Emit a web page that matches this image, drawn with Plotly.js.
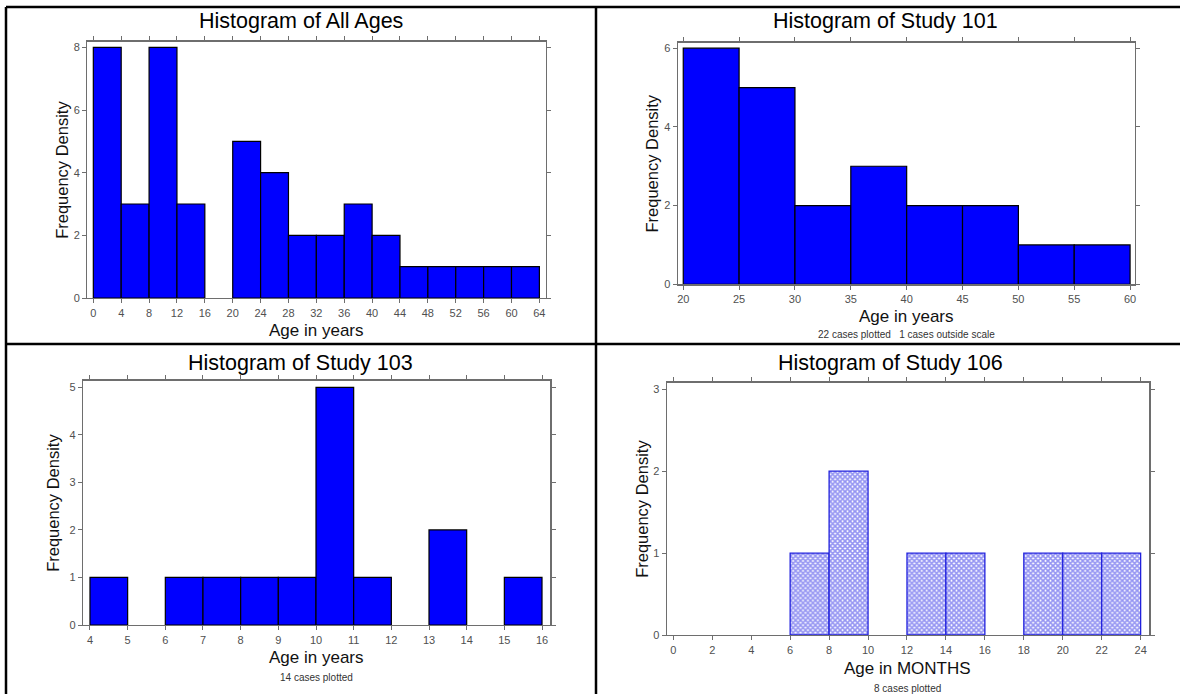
<!DOCTYPE html>
<html>
<head>
<meta charset="utf-8">
<script src="https://cdn.plot.ly/plotly-3.0.1.min.js"></script>
<style>
html,body{margin:0;padding:0;background:#fff;}
#chart{width:1180px;height:694px;}
</style>
</head>
<body>
<div id="chart"></div>
<script>
// ---- Data ----
const allAgesBinStarts = [0,4,8,12,16,20,24,28,32,36,40,44,48,52,56,60];
const allAgesCounts    = [8,3,8,3,0,5,4,2,2,3,2,1,1,1,1,1];
const allAgesBinWidth  = 4;

const study101BinStarts = [20,25,30,35,40,45,50,55];
const study101Counts    = [6,5,2,3,2,2,1,1];
const study101BinWidth  = 5;

const study103BinStarts = [4,5,6,7,8,9,10,11,12,13,14,15];
const study103Counts    = [1,0,1,1,1,1,5,1,0,2,0,1];
const study103BinWidth  = 1;

const study106BinStarts = [0,2,4,6,8,10,12,14,16,18,20,22];
const study106Counts    = [0,0,0,1,2,0,1,1,0,1,1,1];
const study106BinWidth  = 2;

const titles = ["Histogram of All Ages","Histogram of Study 101","Histogram of Study 103","Histogram of Study 106"];
const xTitles = ["Age in years","Age in years","Age in years","Age in MONTHS"];
const yTitle = "Frequency Density";
const notes = ["", "22 cases plotted   1 cases outside scale", "14 cases plotted", "8 cases plotted"];
const xTicks = [
  [0,4,8,12,16,20,24,28,32,36,40,44,48,52,56,60,64],
  [20,25,30,35,40,45,50,55,60],
  [4,5,6,7,8,9,10,11,12,13,14,15,16],
  [0,2,4,6,8,10,12,14,16,18,20,22,24]
];
const yTicks = [[0,2,4,6,8],[0,2,4,6],[0,1,2,3,4,5],[0,1,2,3]];

// ---- Layout helpers (pixel -> paper) ----
const W = 1180, H = 694;
const px = v => v / W;
const py = v => 1 - v / H;

// plot boxes in pixels: [left, right, top, bottom]
const boxes = [
  [87.4, 546, 41.7, 298],
  [678, 1135, 42.7, 284.3],
  [83.2, 550.3, 380.7, 625],
  [666.9, 1149.4, 382.7, 635]
];
const xRanges = [[-0.85,64.95],[19.53,60.44],[3.82,16.22],[-0.33,24.45]];
const yRanges = [[0,8.18],[0,6.14],[0,5.14],[0,3.08]];

function barTrace(starts, counts, width, idx, patterned) {
  const xs = [], ys = [];
  starts.forEach((s,i) => { if (counts[i] > 0) { xs.push(s + width/2); ys.push(counts[i]); } });
  const marker = patterned ? {
    color: '#ffffff',
    line: {color: '#2222dd', width: 1.3},
    pattern: {shape: 'x', fgcolor: '#2a2ae6', bgcolor: '#ffffff', size: 3.5, solidity: 0.72, fillmode: 'overlay'}
  } : {
    color: '#0000ff',
    line: {color: '#000000', width: 1.2}
  };
  return {
    type: 'bar', x: xs, y: ys, width: width,
    xaxis: idx === 0 ? 'x' : 'x' + (idx+1),
    yaxis: idx === 0 ? 'y' : 'y' + (idx+1),
    marker: marker, hoverinfo: 'x+y', showlegend: false
  };
}

const data = [
  barTrace(allAgesBinStarts, allAgesCounts, allAgesBinWidth, 0, false),
  barTrace(study101BinStarts, study101Counts, study101BinWidth, 1, false),
  barTrace(study103BinStarts, study103Counts, study103BinWidth, 2, false),
  barTrace(study106BinStarts, study106Counts, study106BinWidth, 3, true)
];

const layout = {
  width: W, height: H,
  margin: {l:0, r:0, t:0, b:0},
  paper_bgcolor: '#ffffff', plot_bgcolor: '#ffffff',
  font: {family: 'Liberation Sans, Arial, sans-serif', color: '#000'},
  bargap: 0,
  annotations: [], shapes: []
};

const titleX = [301, 885, 300, 890];
const titleY = [21, 21, 363, 363];
const xTitleY = [330, 316, 657, 668];
const noteY = [0, 334, 677, 688];
const xTitleX = [316, 906, 316, 907];
const yTitleX = [62, 652, 53, 642];

boxes.forEach((b, i) => {
  const sfx = i === 0 ? '' : String(i+1);
  const axCommon = {
    showline: true, linecolor: '#6e6e6e', linewidth: 1.4, mirror: 'ticks',
    ticks: 'outside', ticklen: 4, tickcolor: '#6e6e6e', tickwidth: 1,
    showgrid: false, zeroline: false, fixedrange: true,
    tickfont: {size: 11, color: '#505050', family: 'Liberation Sans, Arial, sans-serif'}
  };
  layout['xaxis' + sfx] = Object.assign({}, axCommon, {
    domain: [px(b[0]), px(b[1])], range: xRanges[i],
    tickmode: 'array', tickvals: xTicks[i], ticktext: xTicks[i].map(String),
    anchor: 'y' + sfx
  });
  layout['yaxis' + sfx] = Object.assign({}, axCommon, {
    domain: [py(b[3]), py(b[2])], range: yRanges[i],
    tickmode: 'array', tickvals: yTicks[i], ticktext: yTicks[i].map(String),
    anchor: 'x' + sfx
  });
  layout.annotations.push({
    xref: 'paper', yref: 'paper', x: px(titleX[i]), y: py(titleY[i]),
    text: titles[i], showarrow: false, xanchor: 'center', yanchor: 'middle',
    font: {size: 21.5, color: '#000'}
  });
  layout.annotations.push({
    xref: 'paper', yref: 'paper', x: px(xTitleX[i]), y: py(xTitleY[i]),
    text: xTitles[i], showarrow: false, xanchor: 'center', yanchor: 'middle',
    font: {size: 17, color: '#111'}
  });
  layout.annotations.push({
    xref: 'paper', yref: 'paper', x: px(yTitleX[i]), y: py((b[2] + b[3]) / 2),
    text: yTitle, showarrow: false, xanchor: 'center', yanchor: 'middle', textangle: -90,
    font: {size: 16.5, color: '#111'}
  });
  if (notes[i]) {
    layout.annotations.push({
      xref: 'paper', yref: 'paper', x: px(xTitleX[i]), y: py(noteY[i]),
      text: notes[i], showarrow: false, xanchor: 'center', yanchor: 'middle',
      font: {size: 10, color: '#333'}
    });
  }
});

// table cell borders
const bl = {color: '#000', width: 2.5};
layout.shapes.push(
  {type:'line', xref:'paper', yref:'paper', x0: px(6), x1: px(6), y0: 0, y1: py(7), line: bl},
  {type:'line', xref:'paper', yref:'paper', x0: px(6), x1: 1, y0: py(7), y1: py(7), line: bl},
  {type:'line', xref:'paper', yref:'paper', x0: px(596), x1: px(596), y0: 0, y1: py(7), line: bl},
  {type:'line', xref:'paper', yref:'paper', x0: px(6), x1: 1, y0: py(344), y1: py(344), line: bl}
);

Plotly.newPlot('chart', data, layout, {displayModeBar: false, staticPlot: true});
</script>
</body>
</html>
